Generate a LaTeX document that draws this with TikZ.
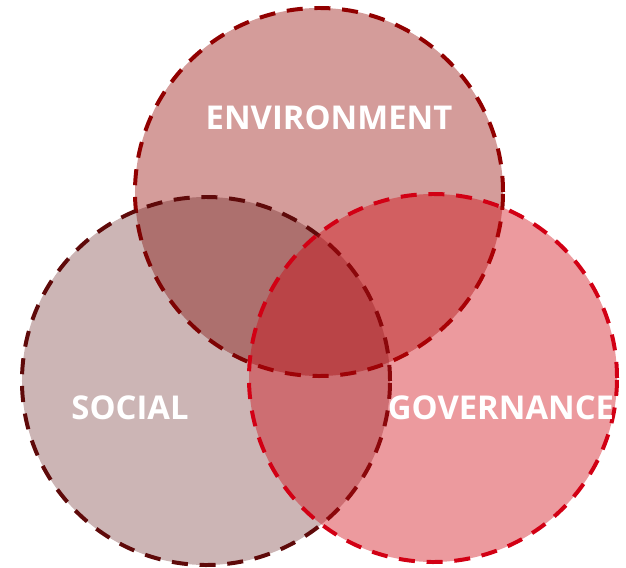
\documentclass[tikz,border=0pt]{standalone}
\usepackage{fontspec}
\setmainfont{Open Sans}
\usepackage{tikz}
\definecolor{envline}{RGB}{145,0,0}
\definecolor{envfill}{RGB}{147,7,2}
\definecolor{socline}{RGB}{95,10,10}
\definecolor{socfill}{RGB}{85,10,10}
\definecolor{govline}{RGB}{210,0,20}
\definecolor{govfill}{RGB}{207,3,13}

\begin{document}
\begin{tikzpicture}[x=0.03cm,y=-0.03cm]
	\useasboundingbox (0,0) rectangle (626,567);

	\begin{scope}[every node/.style={circle,inner sep=0pt,minimum size=11.04cm,
	              line width=3.4pt,dash pattern=on 13.7pt off 10pt}]
    \node [draw=envline,fill=envfill,fill opacity=0.4] (E) at (319,192) {};
    \node [draw=socline,fill=socfill,fill opacity=0.3] (S) at (206,381) {};
    \node [draw=govline,fill=govfill,fill opacity=0.4] (G) at (433,378) {};
	\end{scope}

	\begin{scope}[every node/.style={text=white,font=\bfseries\fontsize{28}{33}\selectfont}]
    \node (env) at (329,118) {ENVIRONMENT};
    \node (soc) at (130,408) {SOCIAL};
    \node (gov) at (501,408) {GOVERNANCE};
	\end{scope}
\end{tikzpicture}
\end{document}
